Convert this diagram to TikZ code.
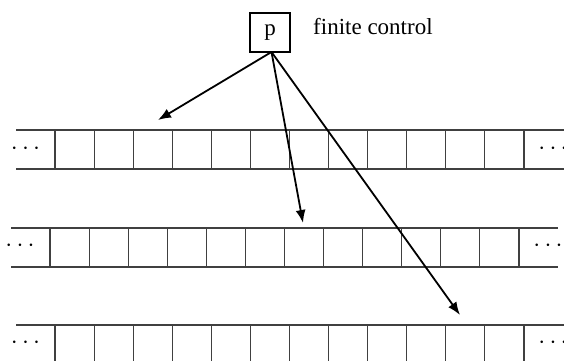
\documentclass[tikz,border=0pt]{standalone}
\usepackage{fontspec}
\setmainfont{Liberation Serif}
\usetikzlibrary{arrows.meta}
\begin{document}
\begin{tikzpicture}[x=1pt,y=-1pt,
  tapeline/.style={draw=black!75, line width=1.1pt},
  cellline/.style={draw=black!75, line width=1.1pt},
  ctrlbox/.style={draw, line width=1.5pt, minimum width=40pt, minimum height=39pt, inner sep=0pt,
    font=\fontsize{23}{27}\selectfont},
  lbl/.style={inner sep=0pt, font=\fontsize{23}{27}\selectfont},
  dotsnode/.style={inner sep=0pt, font=\fontsize{23}{27}\selectfont},
  headarrow/.style={line width=1.8pt, -{Latex[length=13pt,width=10pt]}}]
\useasboundingbox (0,0) rectangle (564,361);

% finite control
\node[ctrlbox] (p) at (270,32.5) {p};
\node[lbl, anchor=base west] (fc) at (313,35) {finite control};
\coordinate (src) at (271.5,52);

% tape 1
\draw[tapeline] (16,130) -- (564,130) (16,169) -- (564,169);
\foreach \k in {0,...,12} \draw[cellline] ({55+39.08*\k},130) -- ({55+39.08*\k},169);
\node[dotsnode] (l1) at (25.5,149) {$\cdots$};
\node[dotsnode] (r1) at (553,149) {$\cdots$};

% tape 2
\draw[tapeline] (11,228) -- (558,228) (11,267) -- (558,267);
\foreach \k in {0,...,12} \draw[cellline] ({50+39.08*\k},228) -- ({50+39.08*\k},267);
\node[dotsnode] (l2) at (20,246) {$\cdots$};
\node[dotsnode] (r2) at (548,246) {$\cdots$};

% tape 3
\draw[tapeline] (16,325) -- (564,325);
\foreach \k in {0,...,12} \draw[cellline] ({55+39.08*\k},325) -- ({55+39.08*\k},361);
\node[dotsnode] (l3) at (25.5,343) {$\cdots$};
\node[dotsnode] (r3) at (553,343) {$\cdots$};

% read heads
\coordinate (h1) at (158,120);
\coordinate (h2) at (303,223);
\coordinate (h3) at (460,315);
\draw[headarrow] (src) -- (h1);
\draw[headarrow] (src) -- (h2);
\draw[headarrow] (src) -- (h3);
\end{tikzpicture}
\end{document}
